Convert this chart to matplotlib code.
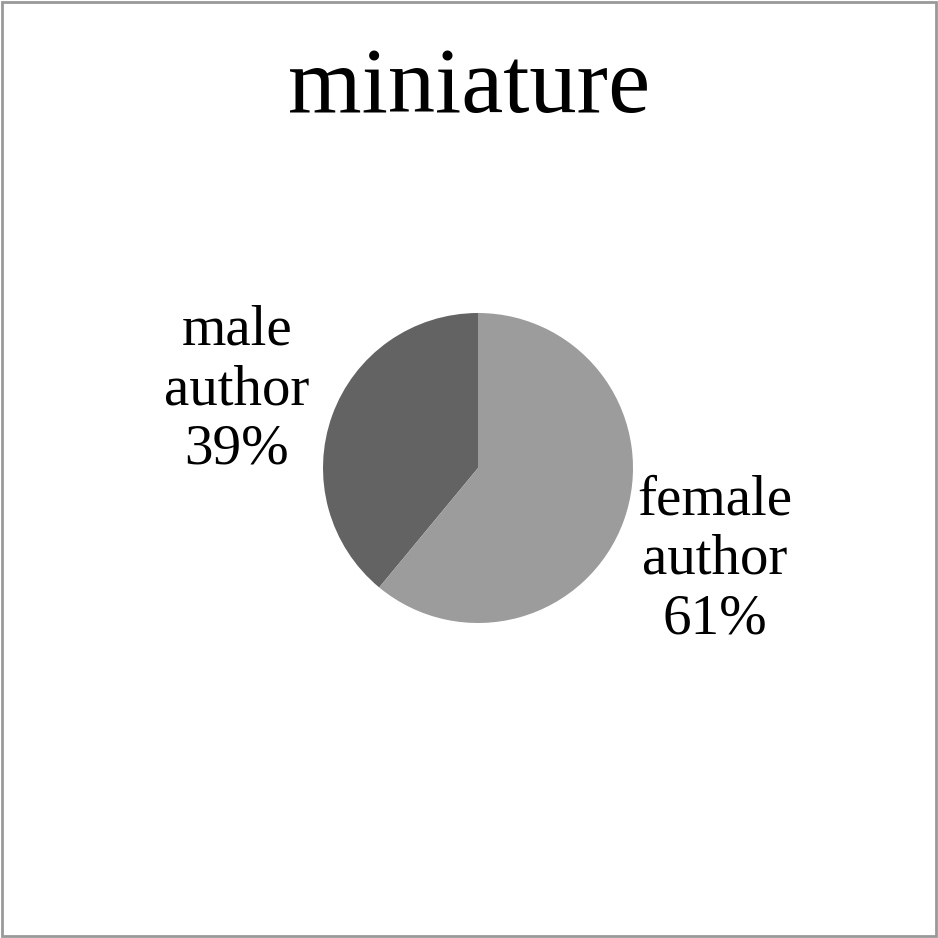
import matplotlib
matplotlib.use("Agg")
import matplotlib.pyplot as plt
from matplotlib.patches import Rectangle

# Datos
title = "miniature"
labels = ["male\nauthor", "female\nauthor"]
shares = [39, 61]
colors = ["#636363", "#9c9c9c"]

plt.rcParams['font.family'] = ['Liberation Serif', 'DejaVu Serif']

fig = plt.figure(figsize=(9.38, 9.38), dpi=100)
fig.patch.set_facecolor("white")

# marco gris alrededor
fig.patches.append(Rectangle((0.002, 0.002), 0.996, 0.996, transform=fig.transFigure,
                             fill=False, edgecolor="#999999", linewidth=2))

fig.text(0.5, 0.905, title, ha="center", va="center", fontsize=68)

# tarta
r = 155 / 938
ax = fig.add_axes([478 / 938 - r, (938 - 468) / 938 - r, 2 * r, 2 * r])
ax.pie(shares, colors=colors, startangle=90, counterclock=True,
       wedgeprops=dict(linewidth=0))
ax.set_xlim(-1, 1)
ax.set_ylim(-1, 1)
ax.set_aspect("equal")
ax.axis("off")

# etiquetas
pos = [(237 / 938, (938 - 390) / 938), (715 / 938, (938 - 560) / 938)]
for (x, y), lab, v in zip(pos, labels, shares):
    fig.text(x, y, f"{lab}\n{v}%", ha="center", va="center", fontsize=41,
             linespacing=1.18)

fig.savefig("out.png", dpi=100)
